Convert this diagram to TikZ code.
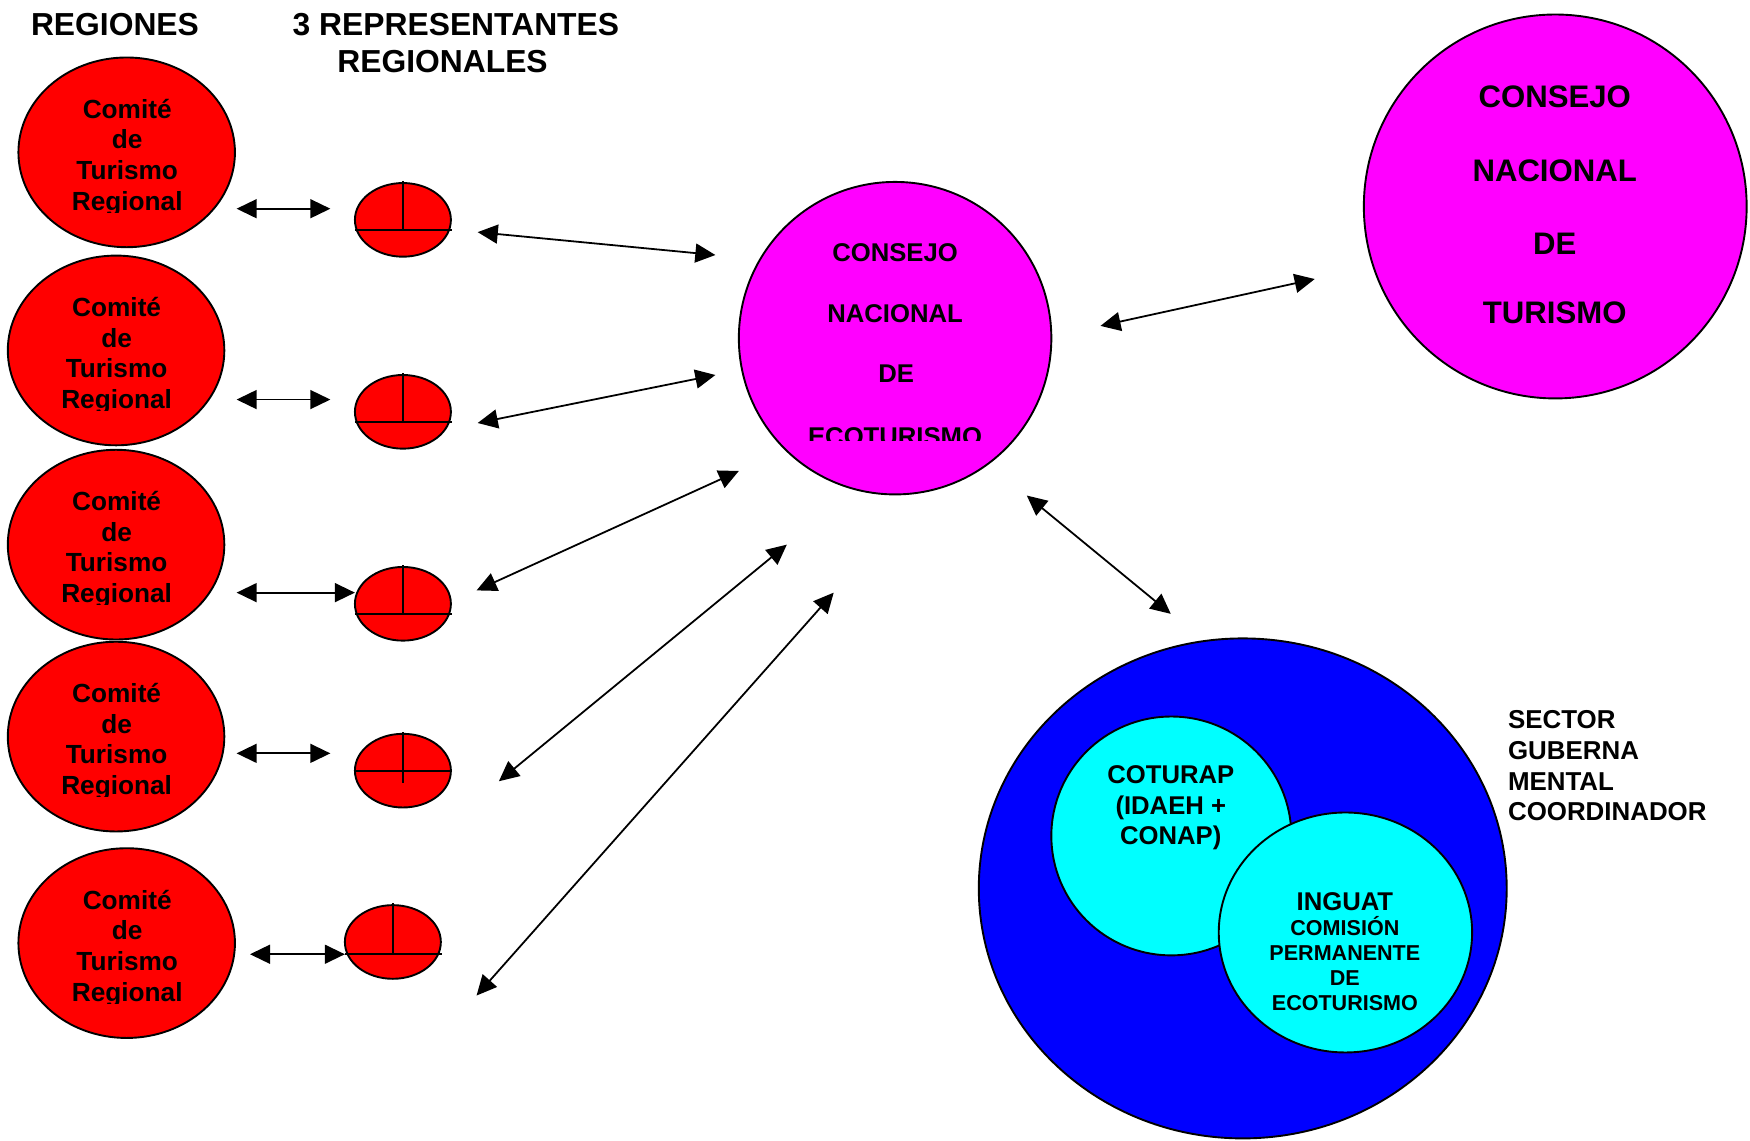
\documentclass[tikz,border=0pt]{standalone}
\usepackage{fontspec}
\setmainfont{Liberation Sans}
\usetikzlibrary{shapes.geometric,arrows.meta}
\definecolor{cred}{RGB}{255,0,0}
\definecolor{cmag}{RGB}{255,0,255}
\definecolor{cblue}{RGB}{0,0,255}
\definecolor{ccyan}{RGB}{0,255,255}
\tikzset{
  blob/.style={ellipse, draw=black, line width=1.7pt, inner sep=0pt},
  dbl/.style={{Triangle[length=18pt,width=17pt]}-{Triangle[length=18pt,width=17pt]}, line width=1.6pt},
  lbase/.style={anchor=base, inner sep=0pt},
  fhead/.style={lbase, font=\bfseries\fontsize{28.5}{28.5}\selectfont},
  freg/.style={lbase, font=\bfseries\fontsize{23.5}{23.5}\selectfont},
  fmid/.style={lbase, font=\bfseries\fontsize{23}{23}\selectfont},
  fbig/.style={lbase, font=\bfseries\fontsize{27.9}{27.9}\selectfont},
  fsm/.style={lbase, font=\bfseries\fontsize{19.3}{19.3}\selectfont},
  fsec/.style={anchor=base west, inner sep=0pt, font=\bfseries\fontsize{23.2}{23.2}\selectfont},
}
\begin{document}
\begin{tikzpicture}[x=1pt,y=-1pt]
\useasboundingbox (0,0) rectangle (1568,1022.3);

% headers
\node[fhead] (h1) at (103,32) {REGIONES};
\node[fhead] (h2) at (408.5,32) {3 REPRESENTANTES};
\node[fhead] (h3) at (396.5,65) {REGIONALES};

% regional committees
\foreach \i/\cx/\cy in {1/113.5/136.5, 2/104/314, 3/104/488, 4/104/660, 5/113.5/845} {
  \node[blob, fill=cred, minimum width=194pt, minimum height=170pt] (reg\i) at (\cx,\cy) {};
  \begin{scope}
    \clip (\cx-90,\cy-70) rectangle (\cx+90,\cy+54);
    \node[freg] (reg\i-l1) at (\cx+0.5,\cy-30.5) {Comité};
    \node[freg] (reg\i-l2) at (\cx+0.5,\cy-3) {de};
    \node[freg] (reg\i-l3) at (\cx+0.5,\cy+24.5) {Turismo};
    \node[freg] (reg\i-l4) at (\cx+0.5,\cy+52) {Regional};
  \end{scope}
}

% representatives
\foreach \i/\cx/\cy/\h/\v in {1/361/197/206/206, 2/361/369/378/378, 3/361/541/550/550, 4/361/690.5/690.5/701.5, 5/352/844/855/855} {
  \node[blob, fill=cred, minimum width=86pt, minimum height=66pt] (rep\i) at (\cx,\cy) {};
  \draw[line width=1.7pt] (\cx-43,\h) -- (\cx+44,\h);
  \draw[line width=1.7pt] (\cx,\cy-34.5) -- (\cx,\v);
}

% Consejo Nacional de Ecoturismo
\node[blob, fill=cmag, minimum width=280pt, minimum height=280pt] (cne) at (802,303) {};
\begin{scope}
  \clip (680,190) rectangle (924,395);
  \node[fmid] (cne-l1) at (802,234) {CONSEJO};
  \node[fmid] (cne-l2) at (802,289) {NACIONAL};
  \node[fmid] (cne-l3) at (803,343) {DE};
  \node[fmid] (cne-l4) at (802,399) {ECOTURISMO};
\end{scope}

% Consejo Nacional de Turismo
\node[blob, fill=cmag, minimum width=343pt, minimum height=344pt] (cnt) at (1393.5,185) {};
\node[fbig] (cnt-l1) at (1393,96) {CONSEJO};
\node[fbig] (cnt-l2) at (1393,163) {NACIONAL};
\node[fbig] (cnt-l3) at (1393,228) {DE};
\node[fbig] (cnt-l4) at (1393,290) {TURISMO};

% Sector gubernamental
\node[blob, fill=cblue, minimum width=473pt, minimum height=448pt] (sgc) at (1113.5,796) {};
\node[blob, fill=ccyan, minimum width=215pt, minimum height=214pt] (cot) at (1049.5,749) {};
\node[blob, fill=ccyan, minimum width=227pt, minimum height=215pt] (ing) at (1205.5,835.5) {};
\node[fmid] (cot-l1) at (1049,702) {COTURAP};
\node[fmid] (cot-l2) at (1049,729.5) {(IDAEH +};
\node[fmid] (cot-l3) at (1049,757) {CONAP)};
\node[fmid] (ing-l1) at (1205,815.5) {INGUAT};
\node[fsm] (ing-l2) at (1205,838.5) {COMISIÓN};
\node[fsm] (ing-l3) at (1205,861) {PERMANENTE};
\node[fsm] (ing-l4) at (1205,883) {DE};
\node[fsm] (ing-l5) at (1205,905) {ECOTURISMO};
\node[fsec] (sec-l1) at (1351,653) {SECTOR};
\node[fsec] (sec-l2) at (1351,680.5) {GUBERNA};
\node[fsec] (sec-l3) at (1351,708) {MENTAL};
\node[fsec] (sec-l4) at (1351,735.5) {COORDINADOR};

% arrow end points
\coordinate (a1s) at (212,187);   \coordinate (a1e) at (296,187);
\coordinate (a2s) at (212,358);   \coordinate (a2e) at (296,358);
\coordinate (a3s) at (212,531);   \coordinate (a3e) at (318,531);
\coordinate (a4s) at (212,675);   \coordinate (a4e) at (296,675);
\coordinate (a5s) at (224,855);   \coordinate (a5e) at (309,855);
\coordinate (b1s) at (428,208);   \coordinate (b1e) at (641,228.5);
\coordinate (b2s) at (428,379);   \coordinate (b2e) at (641,336);
\coordinate (b3s) at (427,529);   \coordinate (b3e) at (662,422);
\coordinate (b4s) at (447,700);   \coordinate (b4e) at (705,488);
\coordinate (b5s) at (427,892);   \coordinate (b5e) at (747,531);
\coordinate (c1s) at (986,292);   \coordinate (c1e) at (1178,250);
\coordinate (c2s) at (920,444);   \coordinate (c2e) at (1049,550);

\foreach \p in {a1,a2,a3,a4,a5,b1,b2,b3,b4,b5,c1,c2} {
  \draw[dbl] (\p s) -- (\p e);
}
\end{tikzpicture}
\end{document}
